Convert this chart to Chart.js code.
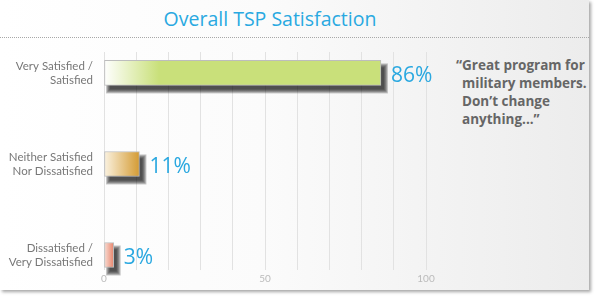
<!DOCTYPE html>
<html>
<head>
<meta charset="utf-8">
<script src="https://cdn.jsdelivr.net/npm/chart.js@4"></script>
<style>
  html, body { margin: 0; padding: 0; background: #fff; }
  #wrap { position: relative; width: 596px; height: 300px; overflow: hidden; }
  #frame {
    position: absolute; left: 0; top: 0; width: 589px; height: 290px;
    background: linear-gradient(to right, #ffffff 0%, #fbfbfb 45%, #ececec 100%);
    box-shadow: 2px 2px 3px rgba(0,0,0,0.35);
  }
  #title {
    position: absolute; left: 0; width: 540px; top: 5px; text-align: center;
    font-family: 'Open Sans', sans-serif; font-size: 19.5px; color: #29a9e1;
  }
  #rule {
    position: absolute; left: 0; top: 37px; width: 589px; border-top: 1px dotted #a8a8a8;
  }
  #quote {
    position: absolute; left: 462px; top: 56px; width: 130px;
    font-family: 'Open Sans', sans-serif; font-weight: bold; font-size: 13.5px;
    line-height: 18px; color: #666; text-indent: -6px;
  }
  canvas { position: absolute; left: 0; top: 0; }
</style>
</head>
<body>
<div id="wrap">
  <div id="frame"></div>
  <div id="title">Overall TSP Satisfaction</div>
  <div id="rule"></div>
  <div id="quote">“Great program for military members. Don’t change anything...”</div>
  <canvas id="chart" width="596" height="300"></canvas>
</div>
<script>
const categories = [
  ['Very Satisfied /', 'Satisfied'],
  ['Neither Satisfied', 'Nor Dissatisfied'],
  ['Dissatisfied /', 'Very Dissatisfied'],
];
const values = [86, 11, 3];
const barColors = ['#c9e07a', '#d49b33', '#e8856c'];
const barLight = ['#ffffff', '#fbf3e2', '#f9e0d8'];
const xTickLabels = [0, 50, 100];

const ctx = document.getElementById('chart').getContext('2d');

// sombra escura embaixo das barras (camadas) e rótulos de porcentagem
const barEffects = {
  id: 'barEffects',
  beforeDatasetsDraw(chart) {
    const c = chart.ctx;
    const xs = chart.scales.x;
    const meta = chart.getDatasetMeta(0);
    c.save();
    meta.data.forEach((bar) => {
      const left = xs.getPixelForValue(0) + 4;
      const right = bar.x + 5;
      const top = bar.y - 12.5 + 5;
      const bottom = bar.y + 12.5 + 6;
      for (let k = 4; k >= 0; k--) {
        c.fillStyle = 'rgba(20,20,20,0.24)';
        c.fillRect(left - k + 2, top - k + 2, right - left + 2 * k - 4, bottom - top + 2 * k - 4);
      }
    });
    c.restore();
  },
  afterDatasetsDraw(chart) {
    const c = chart.ctx;
    const meta = chart.getDatasetMeta(0);
    c.save();
    c.font = '21px "Open Sans", sans-serif';
    c.fillStyle = '#2aa8e0';
    c.textBaseline = 'middle';
    c.textAlign = 'left';
    meta.data.forEach((bar, i) => {
      c.fillText(values[i] + '%', bar.x + 10, bar.y + 3);
    });
    c.restore();
  },
};

const chart = new Chart(ctx, {
  type: 'bar',
  data: {
    datasets: [{
      data: values.map((v, i) => ({ x: v, y: i })),
      barThickness: 25,
      borderWidth: 1,
      borderColor: '#bdbdbd',
      borderSkipped: false,
      backgroundColor: (context) => {
        const i = context.dataIndex;
        const xs = context.chart.scales.x;
        if (!context.chart.chartArea || !xs) return barColors[i];
        const x0 = xs.getPixelForValue(0);
        const x1 = xs.getPixelForValue(values[i]);
        const g = context.chart.ctx.createLinearGradient(x0, 0, x0 + Math.min(55, x1 - x0), 0);
        g.addColorStop(0, barLight[i]);
        g.addColorStop(1, barColors[i]);
        return g;
      },
    }],
  },
  options: {
    indexAxis: 'y',
    responsive: false,
    animation: false,
    devicePixelRatio: 1,
    layout: { padding: { top: 52, right: 170, left: 0, bottom: 0 } },
    plugins: { legend: { display: false }, tooltip: { enabled: false } },
    scales: {
      y: {
        type: 'linear',
        reverse: true,
        offset: false,
        min: -0.23,
        max: 2.165,
        afterBuildTicks: (scale) => { scale.ticks = categories.map((c, i) => ({ value: i })); },
        afterFit: (scale) => { scale.width = 104; },
        grid: { display: false, drawTicks: false, offset: false },
        border: { display: false },
        ticks: {
          padding: 11,
          font: { family: 'Lato', size: 11.5 },
          color: '#777',
          callback: (v) => categories[v],
        },
      },
      x: {
        min: 0,
        max: 100,
        afterFit: (scale) => { scale.height = 30; },
        grid: { color: '#e2e2e2', drawTicks: false },
        border: { display: false },
        ticks: {
          stepSize: 10,
          padding: 3,
          autoSkip: false,
          maxRotation: 0,
          font: { family: 'Lato', size: 10 },
          color: '#bbb',
          callback: (v) => (xTickLabels.includes(v) ? v : ''),
        },
      },
    },
  },
  plugins: [barEffects],
});
</script>
</body>
</html>
